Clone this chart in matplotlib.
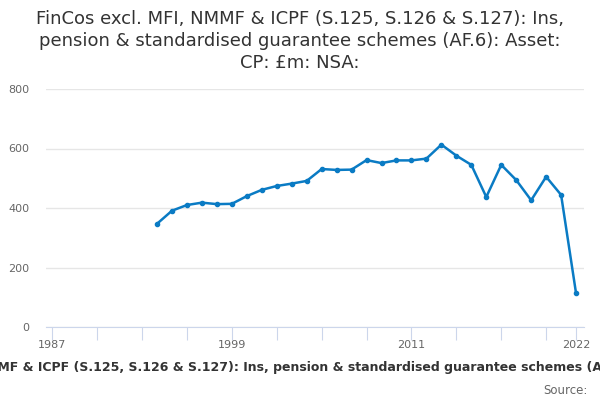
import matplotlib
matplotlib.use("Agg")
import matplotlib.pyplot as plt

years = list(range(1994, 2023))
values = [347, 391, 410, 418, 413, 414, 440, 461, 474, 482, 491, 531, 528, 529,
          561, 551, 560, 560, 566, 613, 576, 545, 437, 545, 494, 426, 505, 444, 113]

tick_years = list(range(1987, 2021, 3)) + [2022]
label_years = [1987, 1999, 2011, 2022]
y_ticks = [0, 200, 400, 600, 800]

title = ("FinCos excl. MFI, NMMF & ICPF (S.125, S.126 & S.127): Ins,\n"
         "pension & standardised guarantee schemes (AF.6): Asset:\n"
         "CP: £m: NSA:")
xlabel = ("FinCos excl. MFI, NMMF & ICPF (S.125, S.126 & S.127): Ins, pension & "
          "standardised guarantee schemes (AF.6): Asset: CP: £m: NSA:")

line_color = "#0a7bc4"

fig = plt.figure(figsize=(6, 4), dpi=100)
ax = fig.add_axes([46 / 600, 1 - 327 / 400, 538 / 600, 238 / 400])

ax.plot(years, values, color=line_color, lw=1.8, marker="o", ms=3, zorder=3)

ax.set_xlim(1986.58, 2022.53)
ax.set_ylim(0, 800)
ax.set_yticks(y_ticks)
ax.set_xticks(tick_years)
ax.set_xticklabels([str(y) if y in label_years else "" for y in tick_years])
ax.grid(axis="y", color="#e6e6e6", lw=1)
ax.set_axisbelow(True)

for s in ["top", "right", "left"]:
    ax.spines[s].set_visible(False)
ax.spines["bottom"].set_color("#ccd6eb")
ax.tick_params(axis="x", length=9, color="#ccd6eb", labelsize=8, labelcolor="#666666", pad=0)
ax.tick_params(axis="y", length=0, labelsize=8, labelcolor="#666666", pad=12)

fig.text(0.5, 0.975, title, ha="center", va="top", fontsize=13, color="#333333",
         linespacing=1.3)
fig.text(315 / 600, 1 - 368 / 400, xlabel, ha="center", va="center", fontsize=9,
         fontweight="bold", color="#333333")
fig.text(588 / 600, 1 - 390 / 400, "Source:", ha="right", va="center", fontsize=8.5,
         color="#666666")

fig.savefig("out.png", dpi=100)
